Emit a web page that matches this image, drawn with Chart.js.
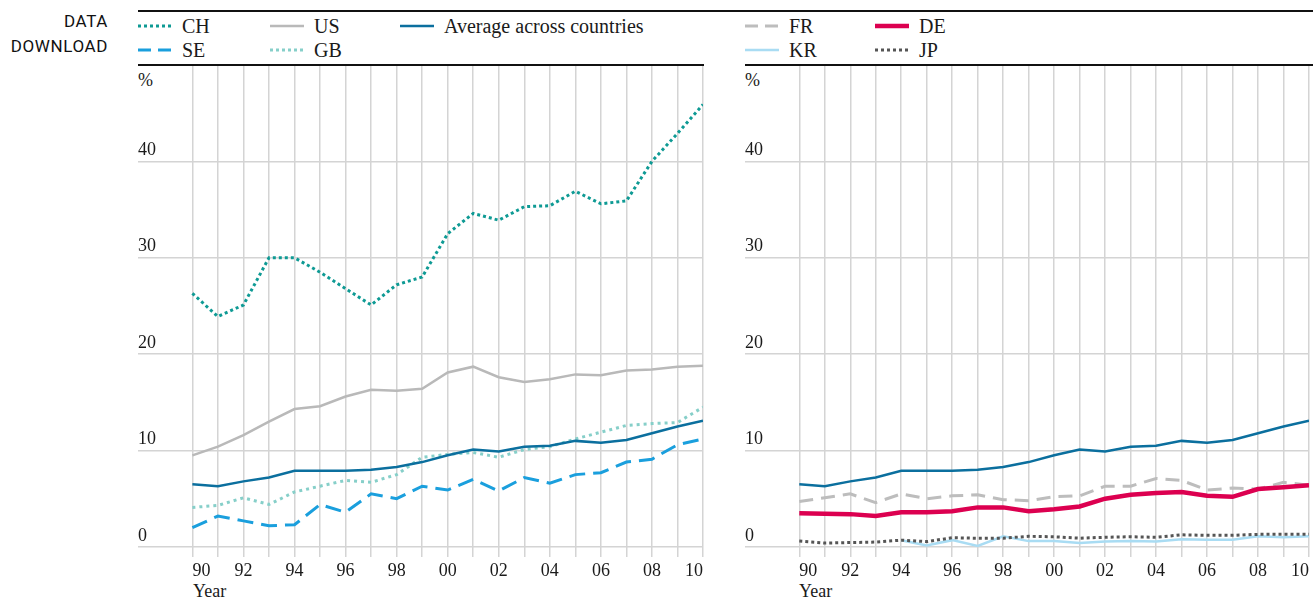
<!DOCTYPE html>
<html>
<head>
<meta charset="utf-8">
<script src="https://cdn.jsdelivr.net/npm/chart.js@4.4.1/dist/chart.umd.min.js"></script>
<style>
  body { margin: 0; width: 1313px; height: 600px; position: relative; background: #fff;
         font-family: "Liberation Serif", "Times New Roman", serif; color: #1a1a1a; overflow: hidden; }
  .abs { position: absolute; }
  .rule { position: absolute; background: #111; height: 2px; z-index: 2; }
  .dl { left: 0; top: 9px; width: 108px; text-align: right; font-family: Roboto, sans-serif;
        font-size: 17px; line-height: 25px; letter-spacing: 0.6px; color: #111; }
  .leg { position: absolute; font-size: 20px; line-height: 22px; white-space: nowrap; }
  .leg svg { position: absolute; left: 0; top: 7px; }
  .leg span { position: absolute; top: 0; }
  .lbl { position: absolute; font-size: 18px; line-height: 20px; }
  .wrap { position: absolute; top: 55px; height: 545px; }
</style>
</head>
<body>
<div class="abs dl">DATA<br>DOWNLOAD</div>
<div class="rule" style="left:138px; top:10px; width:1175px;"></div>
<div class="rule" style="left:138px; top:64px; width:566px;"></div>
<div class="rule" style="left:745px; top:64px; width:568px;"></div>

<div id="legend"></div>

<div class="lbl" style="left:138px; top:70px;">%</div>
<div class="lbl" style="left:745px; top:70px;">%</div>
<div class="lbl" style="left:193px; top:581px;">Year</div>
<div class="lbl" style="left:799px; top:581px;">Year</div>

<div class="wrap" style="left:120px; width:590px;"><canvas id="left"></canvas></div>
<div class="wrap" style="left:727px; width:586px;"><canvas id="right"></canvas></div>

<script>
// Data (%), 1990-2010
const years = [1990, 1991, 1992, 1993, 1994, 1995, 1996, 1997, 1998, 1999, 2000,
               2001, 2002, 2003, 2004, 2005, 2006, 2007, 2008, 2009, 2010];

const ch  = [26.3, 23.9, 25.1, 30.0, 30.0, 28.5, 26.8, 25.1, 27.2, 28.0, 32.5,
             34.6, 33.9, 35.3, 35.4, 36.9, 35.6, 35.9, 40.0, 42.9, 45.9];
const us  = [9.5, 10.4, 11.6, 13.0, 14.3, 14.6, 15.6, 16.3, 16.2, 16.4, 18.1,
             18.7, 17.6, 17.1, 17.4, 17.9, 17.8, 18.3, 18.4, 18.7, 18.8];
const avg = [6.5, 6.3, 6.8, 7.2, 7.9, 7.9, 7.9, 8.0, 8.3, 8.8, 9.5,
             10.1, 9.9, 10.4, 10.5, 11.0, 10.8, 11.1, 11.8, 12.5, 13.1];
const gb  = [4.1, 4.3, 5.1, 4.4, 5.7, 6.3, 6.9, 6.7, 7.5, 9.3, 9.6,
             9.8, 9.3, 10.1, 10.4, 11.2, 11.9, 12.6, 12.8, 12.9, 14.5];
const se  = [2.0, 3.2, 2.7, 2.2, 2.3, 4.4, 3.6, 5.5, 5.0, 6.3, 5.9,
             7.0, 5.8, 7.2, 6.6, 7.5, 7.7, 8.8, 9.1, 10.6, 11.2];

const fr  = [4.7, 5.1, 5.5, 4.6, 5.5, 5.0, 5.3, 5.4, 4.9, 4.8, 5.2,
             5.3, 6.3, 6.3, 7.1, 6.9, 5.9, 6.1, 6.0, 6.7, 6.4];
const de  = [3.5, 3.45, 3.4, 3.2, 3.6, 3.6, 3.7, 4.1, 4.1, 3.7, 3.9,
             4.2, 5.0, 5.4, 5.6, 5.7, 5.3, 5.2, 6.0, 6.2, 6.4];
const kr  = [null, null, null, null, 0.7, 0.15, 0.7, 0.1, 1.1, 0.6, 0.6,
             0.4, 0.55, 0.6, 0.55, 0.8, 0.75, 0.75, 1.1, 1.0, 1.1];
const jp  = [0.6, 0.4, 0.45, 0.5, 0.7, 0.55, 0.95, 0.9, 0.9, 1.1, 1.05,
             0.9, 1.0, 1.05, 1.0, 1.25, 1.2, 1.2, 1.3, 1.3, 1.3];

const yTicks = [0, 10, 20, 30, 40, 50];

// Series styles
const styles = {
  CH:  { label: "CH", color: "#0e9a94", width: 3, dash: [3, 3] },
  US:  { label: "US", color: "#b9b9b9", width: 2.5, dash: [] },
  AVG: { label: "Average across countries", color: "#0b6f9e", width: 2.5, dash: [] },
  SE:  { label: "SE", color: "#1a9fdd", width: 3, dash: [16, 8] },
  GB:  { label: "GB", color: "#86cfc9", width: 3, dash: [3, 4] },
  FR:  { label: "FR", color: "#bdbdbd", width: 3, dash: [14, 8] },
  DE:  { label: "DE", color: "#dc0050", width: 4.5, dash: [] },
  KR:  { label: "KR", color: "#a9dcf3", width: 2.5, dash: [] },
  JP:  { label: "JP", color: "#555555", width: 3, dash: [3, 3] },
};

// Legend (HTML)
const legendItems = [
  ["CH", 138, 15], ["US", 270, 15], ["AVG", 400, 15],
  ["SE", 138, 39], ["GB", 270, 39],
  ["FR", 745, 15], ["DE", 875, 15],
  ["KR", 745, 39], ["JP", 875, 39],
];
const legendEl = document.getElementById("legend");
legendItems.forEach(([key, x, y]) => {
  const s = styles[key];
  const div = document.createElement("div");
  div.className = "leg";
  div.style.left = x + "px";
  div.style.top = y + "px";
  const dash = s.dash.length ? `stroke-dasharray="${key === "SE" || key === "FR" ? "13 7" : "3 3"}"` : "";
  div.innerHTML =
    `<svg width="36" height="8"><line x1="0" y1="4" x2="34" y2="4" stroke="${s.color}" stroke-width="${s.width}" ${dash}/></svg>` +
    `<span style="left:44px">${s.label}</span>`;
  legendEl.appendChild(div);
});

const serif = "'Liberation Serif', 'Times New Roman', serif";
const gridColor = "#d4d4d4";

function makeDataset(key, values) {
  const s = styles[key];
  return {
    label: s.label,
    data: years.map((yr, i) => ({ x: yr, y: values[i] })),
    borderColor: s.color,
    backgroundColor: s.color,
    borderWidth: s.width,
    borderDash: s.dash,
    pointRadius: 0,
    tension: 0,
    spanGaps: false,
  };
}

function makeChart(id, datasets, padding) {
  return new Chart(document.getElementById(id), {
    type: "line",
    data: { datasets },
    options: {
      animation: false,
      responsive: true,
      maintainAspectRatio: false,
      layout: { padding },
      plugins: { legend: { display: false }, tooltip: { enabled: false } },
      scales: {
        x: {
          type: "linear",
          min: 1987.87,
          max: 2010,
          afterBuildTicks: (scale) => {
            scale.ticks = years.map((v) => ({ value: v }));
          },
          border: { display: false },
          grid: { color: gridColor, lineWidth: 1.5, tickLength: 10 },
          ticks: {
            align: "inner",
            maxRotation: 0,
            autoSkip: false,
            padding: 4,
            color: "#1a1a1a",
            font: { family: serif, size: 18 },
            callback: (v) => (v % 2 === 0 ? String(v).slice(2) : ""),
          },
        },
        y: {
          min: 0,
          max: 50,
          afterBuildTicks: (scale) => {
            scale.ticks = yTicks.map((v) => ({ value: v }));
          },
          afterFit: (scale) => {
            scale.width = 0;
          },
          border: { display: false },
          grid: {
            color: (ctx) => (ctx.tick && ctx.tick.value === 50 ? "rgba(0,0,0,0)" : gridColor),
            lineWidth: 1.5,
            drawTicks: false,
          },
          ticks: {
            mirror: true,
            padding: 0,
            labelOffset: -11,
            color: "#1a1a1a",
            font: { family: serif, size: 18, lineHeight: 1.0 },
            callback: (v) => (v === 50 ? "" : v),
          },
        },
      },
    },
  });
}

makeChart("left", [
  makeDataset("AVG", avg),
  makeDataset("CH", ch),
  makeDataset("US", us),
  makeDataset("SE", se),
  makeDataset("GB", gb),
], { left: 18, right: 7, top: 10, bottom: 13.5 });

makeChart("right", [
  makeDataset("DE", de),
  makeDataset("AVG", avg),
  makeDataset("FR", fr),
  makeDataset("JP", jp),
  makeDataset("KR", kr),
], { left: 18, right: 3, top: 10, bottom: 13.5 });
</script>
</body>
</html>
